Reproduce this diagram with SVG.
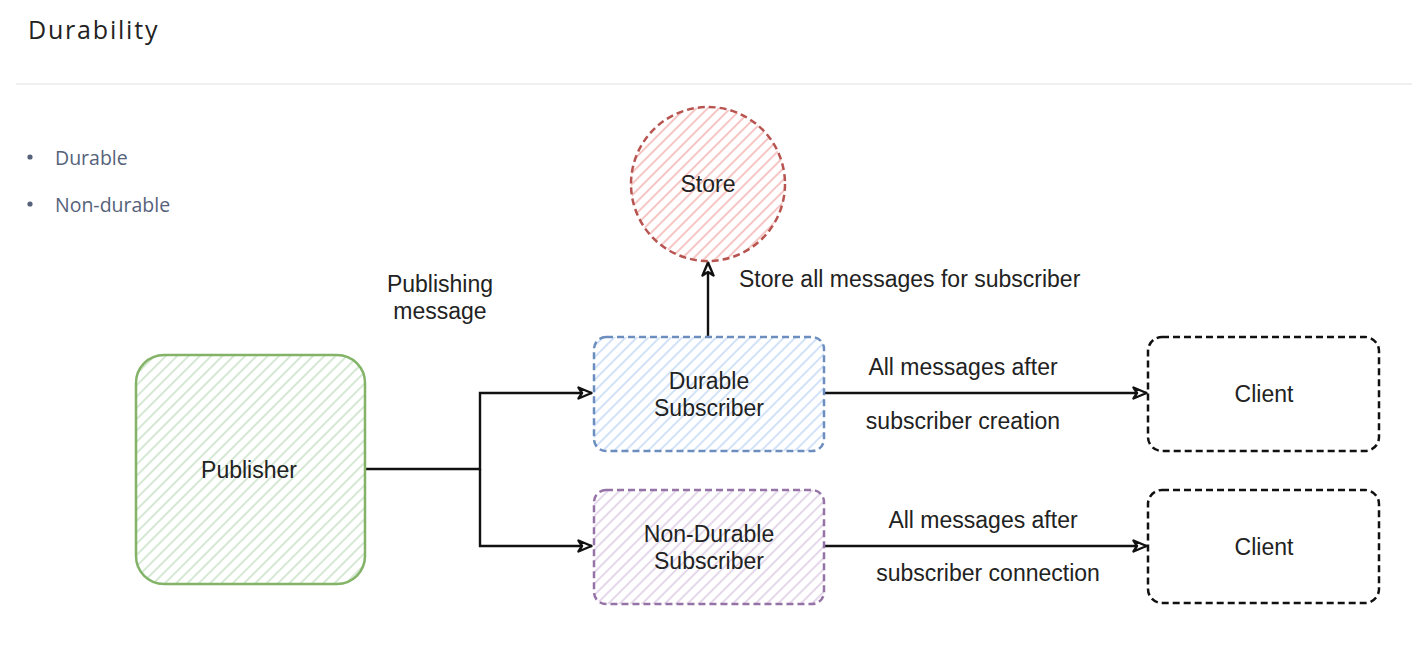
<svg xmlns="http://www.w3.org/2000/svg" width="1412" height="655" viewBox="0 0 1412 655">
<defs>
<style>
.t{font-family:"Liberation Sans",Arial,sans-serif;font-size:23px;fill:#222;text-anchor:middle}
.tl{font-family:"Liberation Sans",Arial,sans-serif;font-size:23px;fill:#222}
.title{font-family:"Open Sans","Noto Sans",sans-serif;font-size:25px;fill:#222;letter-spacing:1.8px}
.bul{font-family:"Open Sans","Noto Sans",sans-serif;font-size:19.5px;fill:#55627a}
.edge{fill:none;stroke:#111;stroke-width:2.4}
</style>
<pattern id="hG" width="8" height="8" patternUnits="userSpaceOnUse" patternTransform="rotate(45)"><rect width="8" height="8" fill="#fff"/><line x1="0" y1="0" x2="0" y2="8" stroke="#d5e8d4" stroke-width="4"/></pattern>
<pattern id="hB" width="8" height="8" patternUnits="userSpaceOnUse" patternTransform="rotate(45)"><rect width="8" height="8" fill="#fff"/><line x1="0" y1="0" x2="0" y2="8" stroke="#d2e2f8" stroke-width="4"/></pattern>
<pattern id="hP" width="8" height="8" patternUnits="userSpaceOnUse" patternTransform="rotate(45)"><rect width="8" height="8" fill="#fff"/><line x1="0" y1="0" x2="0" y2="8" stroke="#e4d8ea" stroke-width="4"/></pattern>
<pattern id="hR" width="8" height="8" patternUnits="userSpaceOnUse" patternTransform="rotate(45)"><rect width="8" height="8" fill="#fff"/><line x1="0" y1="0" x2="0" y2="8" stroke="#f6c6c4" stroke-width="4"/></pattern>
<marker id="arr" viewBox="0 0 16 14" refX="15" refY="7" markerWidth="16" markerHeight="14" markerUnits="userSpaceOnUse" orient="auto"><path d="M1.5,1.5 L14.5,7 L1.5,12.5 L5,7 Z" fill="#fff" stroke="#111" stroke-width="2.4" stroke-linejoin="round"/></marker>
</defs>
<rect width="1412" height="655" fill="#fff"/>
<text class="title" x="28" y="39">Durability</text>
<rect x="16" y="83" width="1396" height="2" fill="#efeff2"/>
<circle cx="30" cy="157" r="2.6" fill="#55627a"/>
<text class="bul" x="55" y="165">Durable</text>
<circle cx="30" cy="204" r="2.6" fill="#55627a"/>
<text class="bul" x="55" y="212">Non-durable</text>

<g id="connectors">
<path class="edge" d="M365,469 L480,469 L480,393 L592,393" marker-end="url(#arr)"/>
<path class="edge" d="M480,469 L480,546 L592,546"  marker-end="url(#arr)"/>
<path class="edge" d="M708,336 L708,262" marker-end="url(#arr)"/>
<path class="edge" d="M825,393 L1147,393" marker-end="url(#arr)"/>
<path class="edge" d="M825,546 L1147,546" marker-end="url(#arr)"/>
<text class="t" x="440" y="292">Publishing</text>
<text class="t" x="440" y="319">message</text>
<text class="tl" x="739" y="287">Store all messages for subscriber</text>
<text class="t" x="963" y="375">All messages after</text>
<text class="t" x="963" y="429">subscriber creation</text>
<text class="t" x="983" y="528">All messages after</text>
<text class="t" x="988" y="581">subscriber connection</text>
</g>

<g id="store">
<circle cx="708" cy="184" r="77" fill="url(#hR)" stroke="#b85450" stroke-width="2.5" stroke-dasharray="7 4"/>
<text class="t" x="708" y="192">Store</text>
</g>
<g id="publisher">
<rect x="136" y="355" width="229" height="229" rx="28" fill="url(#hG)" stroke="#82b366" stroke-width="2.5"/>
<text class="t" x="249" y="478">Publisher</text>
</g>
<g id="durable">
<rect x="594" y="337" width="230" height="114" rx="12" fill="url(#hB)" stroke="#6c8ebf" stroke-width="2.5" stroke-dasharray="7 4"/>
<text class="t" x="709" y="389">Durable</text>
<text class="t" x="709" y="416">Subscriber</text>
</g>
<g id="nondurable">
<rect x="594" y="490" width="230" height="114" rx="12" fill="url(#hP)" stroke="#9673a6" stroke-width="2.5" stroke-dasharray="7 4"/>
<text class="t" x="709" y="542">Non-Durable</text>
<text class="t" x="709" y="569">Subscriber</text>
</g>
<g id="client1">
<rect x="1148" y="337" width="231" height="114" rx="14" fill="none" stroke="#111" stroke-width="2.5" stroke-dasharray="7 4"/>
<text class="t" x="1264" y="402">Client</text>
</g>
<g id="client2">
<rect x="1148" y="490" width="231" height="113" rx="14" fill="none" stroke="#111" stroke-width="2.5" stroke-dasharray="7 4"/>
<text class="t" x="1264" y="555">Client</text>
</g>
</svg>
